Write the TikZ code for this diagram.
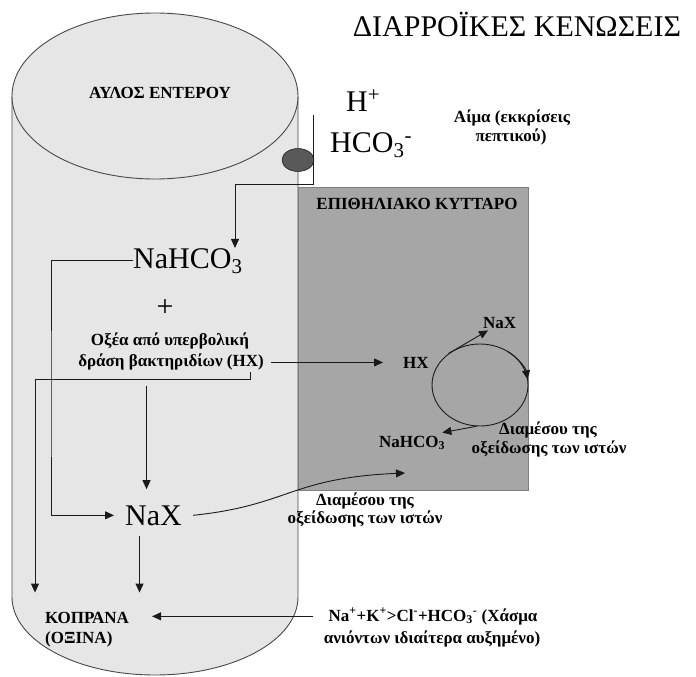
\documentclass[tikz,border=0pt]{standalone}
\usepackage{fontspec}
\setmainfont{Liberation Serif}
\usetikzlibrary{arrows.meta,shapes.geometric,calc}

\definecolor{lumenfill}{HTML}{E6E6E6}
\definecolor{cellfill}{HTML}{A6A6A6}
\definecolor{cellline}{HTML}{7F7F7F}
\definecolor{pumpfill}{HTML}{595959}
\definecolor{ink}{HTML}{1A1A1A}

\begin{document}
\begin{tikzpicture}[x=1pt,y=1pt,
  bigtext/.style={font=\fontsize{30}{36}\selectfont, inner sep=0pt},
  boldlabel/.style={font=\fontsize{17}{20}\selectfont\bfseries, inner sep=0pt},
  link/.style={draw=ink, line width=0.9pt},
  arrowlink/.style={link, -{Triangle[length=9pt,width=8pt]}},
]
\useasboundingbox (0,0) rectangle (696,-677);

% intestinal lumen drawn as a cylinder
\path[fill=lumenfill, draw=ink!80, line width=0.9pt]
  (12,-96) -- (12,-597)
  arc[start angle=180, end angle=360, x radius=143, y radius=78]
  -- (298,-96);
\draw[fill=lumenfill, draw=ink!80, line width=0.9pt]
  (155,-96) ellipse[x radius=143, y radius=83];

% epithelial cell
\draw[fill=cellfill, draw=cellline, line width=1pt] (298,-187) rectangle (528,-490);

% texts
\node[bigtext, anchor=base] (title) at (517,-37) {ΔΙΑΡΡΟΪΚΕΣ ΚΕΝΩΣΕΙΣ};
\node[boldlabel, anchor=base] (lumen) at (160,-98) {ΑΥΛΟΣ ΕΝΤΕΡΟΥ};
\node[bigtext, anchor=base west] (hion) at (346,-111) {H\textsuperscript{+}};
\node[bigtext, anchor=base west] (bicarbion) at (330,-152) {HCO\textsubscript{3}\textsuperscript{-}};
\node[boldlabel, anchor=base] (blood1) at (512,-122) {Αίμα (εκκρίσεις};
\node[boldlabel, anchor=base] (blood2) at (511,-141) {πεπτικού)};
\node[boldlabel, anchor=base] (cell) at (417,-209) {ΕΠΙΘΗΛΙΑΚΟ ΚΥΤΤΑΡΟ};
\node[bigtext, anchor=base west] (naBicarb) at (133,-268) {NaHCO\textsubscript{3}};
\node[bigtext] (plus) at (165,-308) {+};
\node[boldlabel, anchor=base] (acid1) at (170,-345) {Οξέα από υπερβολική};
\node[boldlabel, anchor=base] (acid2) at (171,-366) {δράση βακτηριδίων (HX)};
\node[bigtext, anchor=base west, inner sep=11pt] (naxBig) at (114,-525) {NaX};
\node[boldlabel, anchor=base west] (kop1) at (45,-623) {ΚΟΠΡΑΝΑ};
\node[boldlabel, anchor=base west] (kop2) at (45,-643) {(ΟΞΙΝΑ)};
\node[boldlabel, anchor=base] (gap1) at (433,-621)
  {Na\textsuperscript{+}+K\textsuperscript{+}>Cl\textsuperscript{-}+HCO\textsubscript{3}\textsuperscript{-} (Χάσμα};
\node[boldlabel, anchor=base] (gap2) at (432,-643) {ανιόντων ιδιαίτερα αυξημένο)};
\node[boldlabel, anchor=base west] (hxCell) at (403,-368) {HX};
\node[boldlabel, anchor=base west] (naxCell) at (483,-328) {NaX};
\node[boldlabel, anchor=base west] (bicarbCell) at (379,-447) {NaHCO\textsubscript{3}};
\node[boldlabel, anchor=base] (route1a) at (548,-434) {Διαμέσου της};
\node[boldlabel, anchor=base] (route1b) at (549,-453) {οξείδωσης των ιστών};
\node[boldlabel, anchor=base] (route2a) at (365,-505) {Διαμέσου της};
\node[boldlabel, anchor=base] (route2b) at (365,-523) {οξείδωσης των ιστών};

% tissue oxidation cycle
\node[draw=ink, line width=0.9pt, ellipse, minimum width=96pt, minimum height=82pt,
      inner sep=0pt] (cycle) at (480,-385) {};
\draw[arrowlink] (cycle.center) ++(55:48 and 41)
  arc[start angle=55, end angle=8, x radius=48, y radius=41];
\draw[arrowlink] (cycle.135) -- ([shift={(5pt,-2pt)}]naxCell.south west);
\draw[arrowlink] (cycle.265) -- ([shift={(-3pt,3pt)}]bicarbCell.north east);

% secretion into the lumen through the pump
\coordinate (pumpTop) at (313,-115);
\coordinate (pumpBend) at (235,-184);
\draw[arrowlink] (pumpTop) |- (pumpBend) -- (pumpBend |- naBicarb.north);
\node[ellipse, draw=black, fill=pumpfill, minimum width=32pt, minimum height=23pt,
      inner sep=0pt] (pump) at (298,-160) {};

% NaHCO3 round to NaX
\coordinate (railB) at (51,-400);
\draw[arrowlink] (naBicarb.west) -| (railB) |- (naxBig.west);

% acids into the cell
\draw[arrowlink, shorten <=7pt, shorten >=20pt] (acid2.east |- hxCell.west) -- (hxCell.west);

% acids straight to the stool
\coordinate (acidHook) at (250,-372);
\coordinate (railD) at (35,-379);
\draw[arrowlink, shorten >=19pt] (acidHook) |- (railD) -- (railD |- kop1.north);

% acids to NaX
\draw[arrowlink, shorten <=16pt, shorten >=5pt]
  ([xshift=-7pt]naxBig.north |- acid2.south) -- ([xshift=-7pt]naxBig.north);

% NaX to the stool
\draw[arrowlink, shorten >=19pt]
  ([xshift=-14pt]naxBig.south) -- ([xshift=-14pt]naxBig.south |- kop1.north);

% anion gap to the stool
\draw[arrowlink, shorten <=15pt, shorten >=23pt] (gap1.west) -- (kop1.east |- gap1.west);

% NaX back into the cell
\coordinate (cellEntry) at (405,-473);
\draw[arrowlink] (naxBig.east) .. controls +(96,10) and +(-115,-5) .. (cellEntry);
\end{tikzpicture}
\end{document}
